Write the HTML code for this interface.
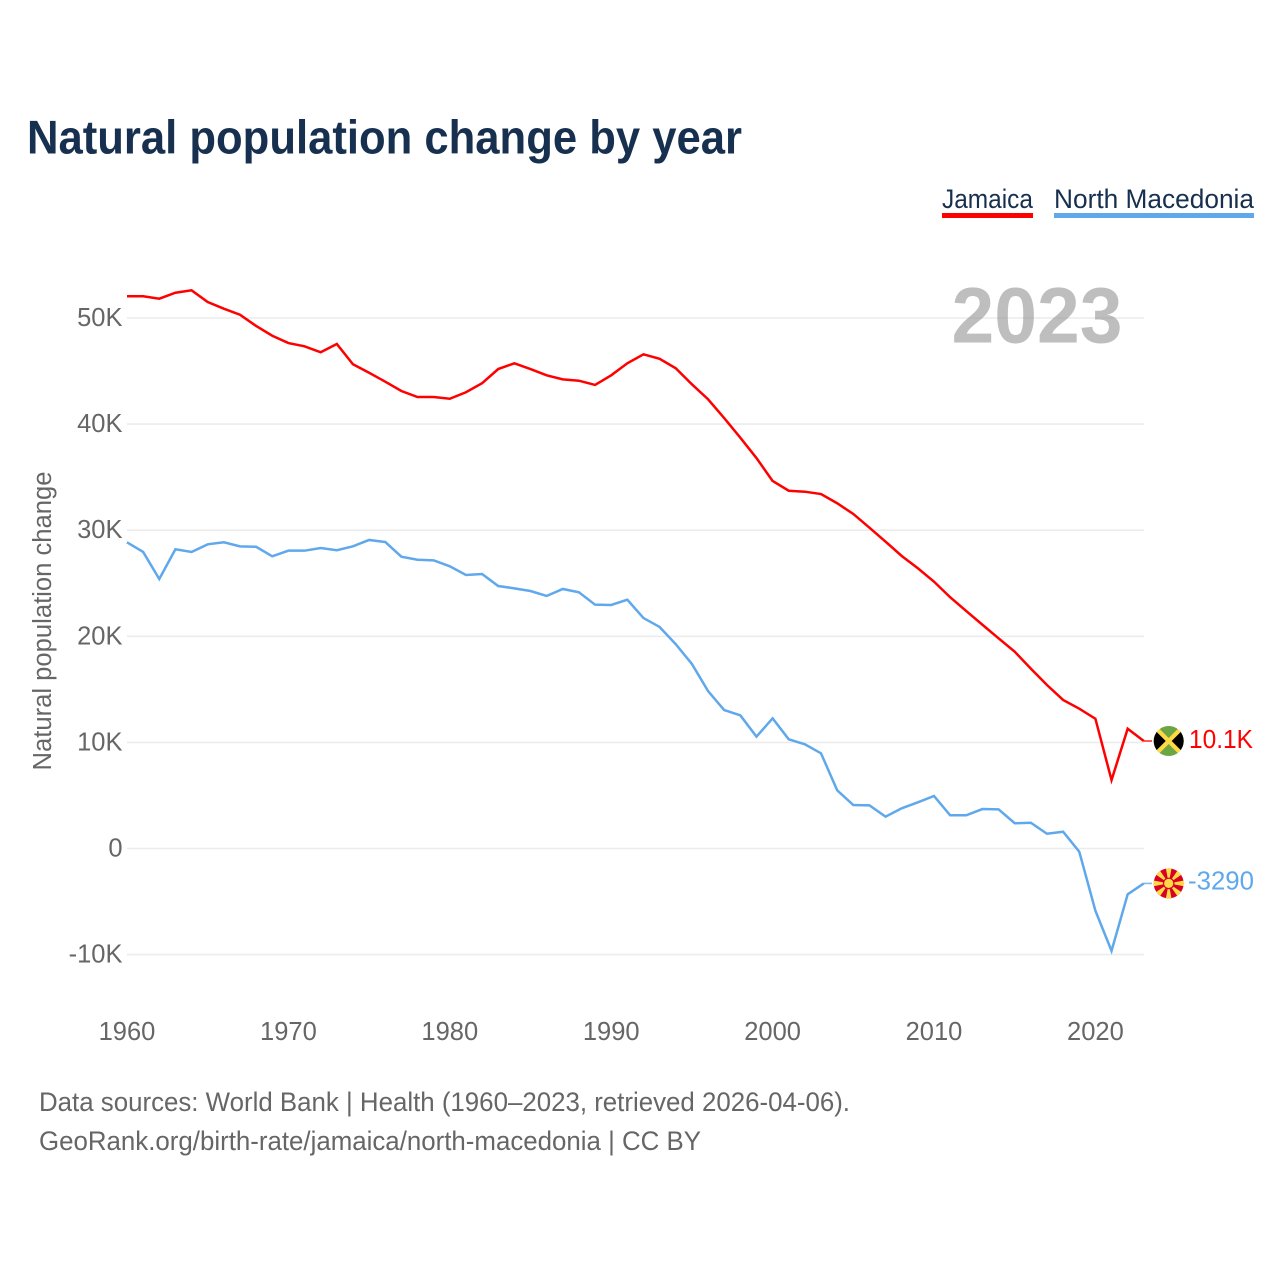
<!DOCTYPE html>
<html lang="en">
<head>
<meta charset="utf-8">
<title>Natural population change by year</title>
<style>
html,body{margin:0;padding:0;background:#fff;width:1280px;height:1280px;overflow:hidden}
svg{display:block}
text{font-family:"Liberation Sans",sans-serif}
.tick{font-size:25.5px;fill:#666}
.foot{font-size:27px;fill:#666}
.leg{font-size:26.5px;fill:#17304f}
</style>
</head>
<body>
<svg id="chart" xmlns="http://www.w3.org/2000/svg" width="1280" height="1280" viewBox="0 0 1280 1280">
  <defs>
    <clipPath id="flag-clip-a"><circle cx="0" cy="0" r="15"/></clipPath>
  </defs>
  <text x="27" y="153.5" font-size="47" font-weight="700" fill="#17304f" textLength="715" lengthAdjust="spacingAndGlyphs">Natural population change by year</text>

  <text class="leg" x="942" y="208" textLength="91" lengthAdjust="spacingAndGlyphs">Jamaica</text>
  <rect x="942" y="213" width="91" height="5" fill="#ff0000"/>
  <text class="leg" x="1054" y="208" textLength="200" lengthAdjust="spacingAndGlyphs">North Macedonia</text>
  <rect x="1054" y="213" width="200" height="5" fill="#5fa8ec"/>

  <g id="grid"></g>
  <text x="951.5" y="342.5" font-size="79" font-weight="700" fill="#888888" fill-opacity="0.55" textLength="171" lengthAdjust="spacingAndGlyphs">2023</text>
  <g id="yticks"></g>
  <g id="xticks"></g>
  <text class="tick" transform="translate(51 621) rotate(-90)" text-anchor="middle" textLength="299" lengthAdjust="spacingAndGlyphs">Natural population change</text>
  <g id="series"></g>
  <g id="endcaps"></g>

  <text class="foot" x="39" y="1111" textLength="811" lengthAdjust="spacingAndGlyphs">Data sources: World Bank | Health (1960–2023, retrieved 2026-04-06).</text>
  <a><text class="foot" x="39" y="1150" textLength="662" lengthAdjust="spacingAndGlyphs">GeoRank.org/birth-rate/jamaica/north-macedonia | CC BY</text></a>
</svg>
<script>
const startYear = 1960;
const xTickYears = [1960, 1970, 1980, 1990, 2000, 2010, 2020];
const yTickValues = [-10000, 0, 10000, 20000, 30000, 40000, 50000];
const yTickLabels = ['-10K', '0', '10K', '20K', '30K', '40K', '50K'];
const jamaicaValues = [
  52050, 52050, 51820, 52380, 52610, 51510, 50880, 50310, 49250, 48330,
  47640, 47330, 46770, 47550, 45640, 44840, 44000, 43120, 42550, 42550,
  42390, 43000, 43850, 45190, 45730, 45190, 44600, 44220, 44090, 43690,
  44600, 45730, 46580, 46160, 45260, 43750, 42340, 40570, 38720, 36800,
  34640, 33720, 33630, 33410, 32540, 31530, 30240, 28920, 27570, 26410,
  25150, 23680, 22380, 21090, 19810, 18550, 16950, 15410, 14000, 13180,
  12230, 6450, 11290, 10130
];
const macedoniaValues = [
  28860, 27950, 25400, 28200, 27950, 28670, 28860, 28480, 28440, 27540,
  28070, 28070, 28320, 28110, 28480, 29080, 28890, 27500, 27220, 27160,
  26600, 25780, 25870, 24740, 24520, 24270, 23800, 24460, 24150, 22980,
  22950, 23450, 21720, 20880, 19250, 17390, 14840, 13050, 12550, 10540,
  12270, 10290, 9820, 8970, 5490, 4100, 4070, 3000, 3790, 4350,
  4950, 3130, 3130, 3720, 3690, 2380, 2430, 1390, 1580, -300,
  -5860, -9650, -4320, -3290
];

const NS = 'http://www.w3.org/2000/svg';
function xScale(year) { return 127 + (year - 1960) * 16.14; }
function yScale(value) { return 848.5 - value * 0.01061; }
function fmt(v) {
  return Math.abs(v) >= 10000 ? (v / 1000).toFixed(1) + 'K' : String(Math.round(v));
}
function make(tag, parent, attrs, content) {
  const el = document.createElementNS(NS, tag);
  for (const k in attrs) el.setAttribute(k, attrs[k]);
  if (content !== undefined) el.textContent = content;
  parent.appendChild(el);
  return el;
}

const gridG = document.getElementById('grid');
const yG = document.getElementById('yticks');
yTickValues.forEach(function (v, i) {
  const line = make('line', gridG, {x1: 127, x2: 1144, y1: yScale(v), y2: yScale(v), stroke: '#ececec', 'stroke-width': 1.6});
  
  
  const t = make('text', yG, {x: 122.5, y: yScale(v) + 8, 'text-anchor': 'end', class: 'tick'}, yTickLabels[i]);
  
  
});

const xG = document.getElementById('xticks');
xTickYears.forEach(function (yr) {
  const t = make('text', xG, {x: xScale(yr), y: 1040, 'text-anchor': 'middle', class: 'tick'}, String(yr));
  
  
});

function linePoints(values) {
  return values.map(function (v, i) {
    return xScale(startYear + i).toFixed(2) + ',' + yScale(v).toFixed(2);
  }).join(' ');
}
const seriesG = document.getElementById('series');
const redLine = make('polyline', seriesG, {points: linePoints(jamaicaValues), fill: 'none', stroke: '#ff0000', 'stroke-width': 2.5, 'stroke-linejoin': 'miter'});


const blueLine = make('polyline', seriesG, {points: linePoints(macedoniaValues), fill: 'none', stroke: '#5fa8ec', 'stroke-width': 2.5, 'stroke-linejoin': 'miter'});



const capsG = document.getElementById('endcaps');
const lastYear = startYear + jamaicaValues.length - 1;
const jY = yScale(jamaicaValues[jamaicaValues.length - 1]);
const mY = yScale(macedoniaValues[macedoniaValues.length - 1]);

const jStub = make('line', capsG, {x1: xScale(lastYear), x2: 1152, y1: jY, y2: jY, stroke: '#ff0000', 'stroke-width': 1.6, opacity: 0.8});


const mStub = make('line', capsG, {x1: xScale(lastYear), x2: 1152, y1: mY, y2: mY, stroke: '#5fa8ec', 'stroke-width': 1.6, opacity: 0.8});



/* Jamaica flag */
const jf = make('g', capsG, {transform: 'translate(1168.7 ' + jY.toFixed(2) + ')', 'clip-path': 'url(#flag-clip-a)'});


make('rect', jf, {x: -16, y: -16, width: 32, height: 32, fill: '#6da544'});
make('path', jf, {d: 'M-16,-13 L-1,0 L-16,13 Z M16,-13 L1,0 L16,13 Z', fill: '#000'});
make('path', jf, {d: 'M-13,-13 L13,13 M13,-13 L-13,13', stroke: '#ffda44', 'stroke-width': 4.2});

/* North Macedonia flag */
const mf = make('g', capsG, {transform: 'translate(1168.7 ' + mY.toFixed(2) + ')', 'clip-path': 'url(#flag-clip-a)'});


make('rect', mf, {x: -16, y: -16, width: 32, height: 32, fill: '#d80027'});
for (let a = 0; a < 360; a += 45) {
  make('path', mf, {d: 'M-3.2,-17 L3.2,-17 L0,0 Z', fill: '#ffda44', transform: 'rotate(' + a + ')'});
}
make('circle', mf, {r: 5.8, fill: '#d80027'});
make('circle', mf, {r: 4.6, fill: '#ffda44'});

const jLabel = make('text', capsG, {x: 1189, y: jY + 7, class: 'tick', style: 'fill:#ff0000', textLength: 64, lengthAdjust: 'spacingAndGlyphs'}, fmt(jamaicaValues[jamaicaValues.length - 1]));


const mLabel = make('text', capsG, {x: 1188, y: mY + 6, class: 'tick', style: 'fill:#5fa8ec', textLength: 66, lengthAdjust: 'spacingAndGlyphs'}, fmt(macedoniaValues[macedoniaValues.length - 1]));


</script>
</body>
</html>
